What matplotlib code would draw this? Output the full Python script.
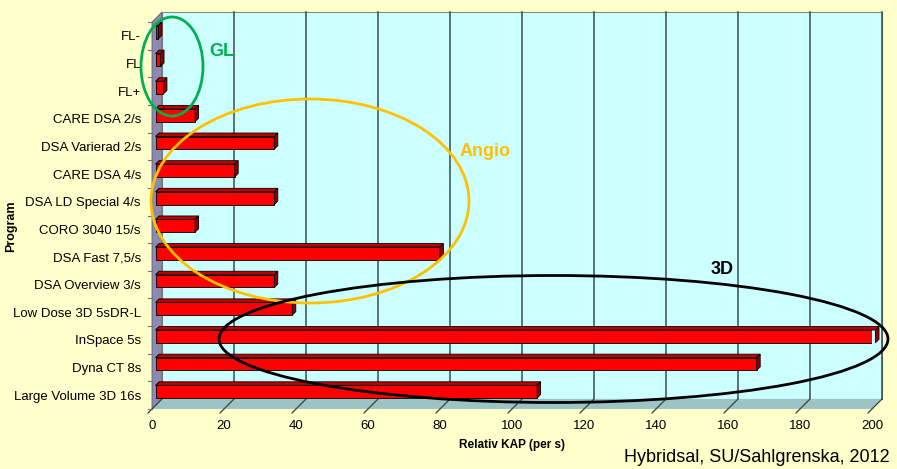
import numpy as np
import matplotlib.pyplot as plt
from matplotlib.patches import Polygon, Ellipse

programs = ["FL-", "FL", "FL+", "CARE DSA 2/s", "DSA Varierad 2/s", "CARE DSA 4/s",
            "DSA LD Special 4/s", "CORO 3040 15/s", "DSA Fast 7,5/s", "DSA Overview 3/s",
            "Low Dose 3D 5sDR-L", "InSpace 5s", "Dyna CT 8s", "Large Volume 3D 16s"]
kap = [0.8, 1.4, 2.2, 11, 33, 22, 33, 11, 79, 33, 38, 200, 167, 106]
xticks = [0, 20, 40, 60, 80, 100, 120, 140, 160, 180, 200]

plt.rcParams['font.family'] = ['Liberation Sans', 'DejaVu Sans']

W, H = 897, 469
fig = plt.figure(figsize=(W / 100, H / 100), dpi=100, facecolor='#FFFFCC')
# front plane of the 3d box
ax = fig.add_axes([152 / W, (H - 409) / H, 720 / W, 387 / H])
n = len(programs)
ax.set_xlim(0, 200)
ax.set_ylim(n - 0.5, -0.5)
ax.set_facecolor('none')
for s in ax.spines.values():
    s.set_visible(False)

# depth of the box, 10 px up and right, in data units
depth = 10
ddx = depth / (720 / 200)
ddy = -depth / (387 / n)
ybot, ytop = n - 0.5, -0.5

# back wall + gridlines
ax.add_patch(Polygon([(ddx, ybot + ddy), (200 + ddx, ybot + ddy), (200 + ddx, ytop + ddy),
                      (ddx, ytop + ddy)], closed=True, fc='#CCFFFF', ec='#8a8a80', lw=0.8,
                     zorder=0, clip_on=False))
for t in xticks[1:]:
    ax.plot([t + ddx, t + ddx], [ybot + ddy, ytop + ddy], color='#3a4a4a', lw=1.1,
            zorder=1, clip_on=False)

# left wall and floor
ax.add_patch(Polygon([(0, ybot), (0, ytop), (ddx, ytop + ddy), (ddx, ybot + ddy)],
                     closed=True, fc='#8A8AB2', ec='#606070', lw=0.6, zorder=2, clip_on=False))
ax.add_patch(Polygon([(0, ybot), (200, ybot), (200 + ddx, ybot + ddy), (ddx, ybot + ddy)],
                     closed=True, fc='#9CC4C4', ec='none', zorder=2, clip_on=False))
for t in xticks:
    ax.plot([t + ddx, t - 0.4 * ddx], [ybot + ddy, ybot - 0.4 * ddy], color='#3a4040',
            lw=0.9, zorder=3, clip_on=False)

# category tick marks on the front edge
for b in np.arange(-0.5, n, 1):
    ax.plot([-0.45 * ddx, 0], [b, b], color='#707070', lw=0.8, clip_on=False, zorder=3)

# 3d bars
f0 = 0.35          # depth position of the bar front
bd = 0.35          # bar depth fraction
h = 0.46
ypos = np.arange(n) + f0 * ddy
x0 = f0 * ddx
ax.barh(ypos, kap, height=h, left=x0, color='#FF0000', edgecolor='black', lw=0.6, zorder=5)
for y, v in zip(ypos, kap):
    yt = y - h / 2
    bx, by = bd * ddx, bd * ddy
    ax.add_patch(Polygon([(x0, yt), (x0 + v, yt), (x0 + v + bx, yt + by), (x0 + bx, yt + by)],
                         closed=True, fc='#C00000', ec='black', lw=0.6, zorder=5, clip_on=False))
    ax.add_patch(Polygon([(x0 + v, yt), (x0 + v, yt + h), (x0 + v + bx, yt + h + by),
                          (x0 + v + bx, yt + by)],
                         closed=True, fc='#900000', ec='black', lw=0.6, zorder=5, clip_on=False))

ax.set_yticks(range(n))
ax.set_yticklabels(programs, fontsize=9.5)
ax.tick_params(axis='y', length=0, pad=8)
ax.set_xticks(xticks)
ax.set_xticklabels([str(t) for t in xticks], fontsize=9.5)
ax.tick_params(axis='x', length=0, pad=8)
ax.set_xlabel("Relativ KAP (per s)", fontsize=8.5, fontweight='bold', labelpad=5)
ax.set_ylabel("Program", fontsize=9, fontweight='bold')
ax.yaxis.set_label_coords((17 - 152) / 720, (409 - 226) / 387)

# group markers
def ring(cx, cy, w, hh, col):
    fig.add_artist(Ellipse((cx / W, 1 - cy / H), w / W, hh / H, transform=fig.transFigure,
                           fill=False, ec=col, lw=2, zorder=10))

ring(172, 66.5, 62, 99, '#00B050')
ring(310, 201, 318, 204, '#FFC000')
ring(553.5, 339, 669, 127, 'black')
fig.text(222 / W, 1 - 51 / H, "GL", color='#00B050', fontsize=13, fontweight='bold',
         ha='center', va='center')
fig.text(485 / W, 1 - 152 / H, "Angio", color='#FFC000', fontsize=13, fontweight='bold',
         ha='center', va='center')
fig.text(722 / W, 1 - 270 / H, "3D", color='black', fontsize=13, fontweight='bold',
         ha='center', va='center')

fig.text(890 / W, 1 - 457 / H, "Hybridsal, SU/Sahlgrenska, 2012", fontsize=13,
         ha='right', va='center')

fig.savefig('out.png', dpi=100, facecolor=fig.get_facecolor())
